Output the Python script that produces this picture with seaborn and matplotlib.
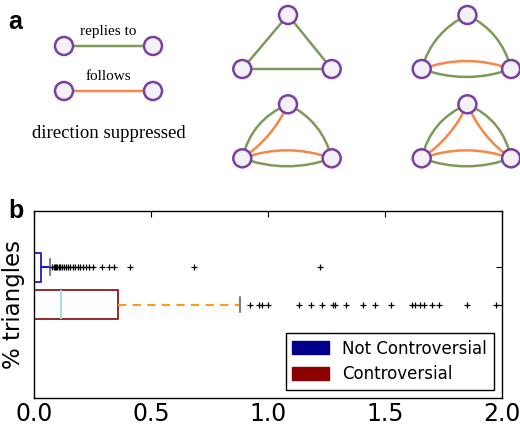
import numpy as np
import pandas as pd
import matplotlib
matplotlib.use('Agg')
import matplotlib.pyplot as plt
from matplotlib.patches import Circle, Patch, PathPatch
from matplotlib.path import Path
import seaborn as sns

# data (panel b)
groups = ['Not Controversial', 'Controversial']
q1 = [0.0, 0.0]
medians = [0.0, 0.116]
q3 = [0.031, 0.358]
whisker_lo = [0.0, 0.0]
whisker_hi = [0.070, 0.882]

outliers_not = [0.079, 0.084, 0.089, 0.094, 0.099, 0.105, 0.112, 0.120, 0.128,
                0.136, 0.145, 0.155, 0.165, 0.175, 0.186, 0.197, 0.209, 0.222,
                0.236, 0.250, 0.290, 0.320, 0.340, 0.412, 0.685, 1.222]
outliers_contr = [0.924, 0.963, 0.974, 1.000, 1.131, 1.185, 1.230, 1.277, 1.287,
                  1.334, 1.408, 1.458, 1.526, 1.617, 1.629, 1.650, 1.667, 1.702,
                  1.730, 1.850, 1.974]

box_colors = ['#1a1acc', '#8b1a1a']
median_colors = ['#006400', '#add8e6']
whisker_colors = ['#1a1acc', '#ff9a1a']
legend_colors = ['#00008b', '#8b0000']

# colours for panel a
green = '#7d9a5b'
orange = '#f5874a'
purple = '#7b3fa3'
node_fill = '#f3f1f8'

sns.set_style('white')
plt.rcParams['font.family'] = ['DejaVu Sans']
plt.rcParams['xtick.direction'] = 'in'
plt.rcParams['ytick.direction'] = 'in'
plt.rcParams['text.color'] = 'black'
plt.rcParams['axes.labelcolor'] = 'black'
plt.rcParams['xtick.color'] = 'black'
plt.rcParams['ytick.color'] = 'black'

fig = plt.figure(figsize=(5.2, 4.25), dpi=100)

# ---------- panel a : diagrams (pixel coordinates) ----------
axa = fig.add_axes([0, 1 - 190 / 425, 1, 190 / 425])
axa.set_xlim(0, 520)
axa.set_ylim(190, 0)
axa.axis('off')


def node(x, y):
    axa.add_patch(Circle((x, y), 9, facecolor=node_fill, edgecolor=purple, lw=1.8, zorder=3))


def edge(p0, p1, color, bulge=0.0, center=None):
    p0 = np.array(p0, float)
    p1 = np.array(p1, float)
    mid = (p0 + p1) / 2
    d = p1 - p0
    n = np.array([-d[1], d[0]]) / np.hypot(*d)
    if center is not None and np.dot(mid - np.array(center), n) < 0:
        n = -n
    ctrl = mid + 2 * bulge * n
    path = Path([p0, ctrl, p1], [Path.MOVETO, Path.CURVE3, Path.CURVE3])
    axa.add_patch(PathPatch(path, facecolor='none', edgecolor=color, lw=1.8, zorder=2))


axa.text(8, 22, 'a', fontsize=18, fontweight='bold', family='Liberation Sans', va='center')

for y, col, lab in [(46, green, 'replies to'), (91, orange, 'follows')]:
    edge((64, y), (153, y), col)
    node(64, y)
    node(153, y)
    axa.text(108.5, y - 15, lab, family='Liberation Serif', fontsize=11, ha='center', va='center')
axa.text(108.5, 134, 'direction suppressed', family='Liberation Serif', fontsize=13.5,
         ha='center', va='center')

# triangles: (top, left, right) offsets from panel origin
tri = {'T': (45.7, 0), 'L': (0, 54), 'R': (89.4, 54)}
origins = [(242.3, 15), (421.7, 15), (242.3, 104.3), (421.7, 104.3)]
edge_sets = [
    [('T', 'L', green, 0), ('T', 'R', green, 0), ('L', 'R', green, 0)],
    [('T', 'L', green, 8), ('T', 'R', green, 8), ('L', 'R', green, 8), ('L', 'R', orange, -8)],
    [('T', 'L', green, 9), ('T', 'L', orange, -5), ('T', 'R', green, 8),
     ('L', 'R', green, 8), ('L', 'R', orange, -8)],
    [('T', 'L', green, 9), ('T', 'L', orange, -5), ('T', 'R', green, 9),
     ('T', 'R', orange, -5), ('L', 'R', green, 8), ('L', 'R', orange, -8)],
]
for (ox, oy), edges in zip(origins, edge_sets):
    pts = {k: (ox + v[0], oy + v[1]) for k, v in tri.items()}
    c = np.mean(list(pts.values()), axis=0)
    for a, b, col, bl in edges:
        edge(pts[a], pts[b], col, bl, center=c)
    for p in pts.values():
        node(*p)

# ---------- panel b : box plot ----------
ax = fig.add_axes([34 / 520, 27 / 425, 468 / 520, 187 / 425])
positions = [2, 1]
stats = [dict(label=g, q1=a, med=m, q3=b, whislo=lo, whishi=hi, fliers=[])
         for g, a, m, b, lo, hi in zip(groups, q1, medians, q3, whisker_lo, whisker_hi)]
art = ax.bxp(stats, positions=positions, widths=0.78, capwidths=0.42,
             orientation='horizontal', showfliers=False, manage_ticks=False)
for i in range(2):
    art['boxes'][i].set(color=box_colors[i], lw=1.3)
    art['medians'][i].set(color=median_colors[i], lw=1.5)
    for w in art['whiskers'][2 * i:2 * i + 2]:
        w.set(color=whisker_colors[i], lw=1.5)
    for cp in art['caps'][2 * i:2 * i + 2]:
        cp.set(color='gray', lw=1.5)
for w in art['whiskers'][2:4]:
    w.set_linestyle((0, (4, 3)))

fl = pd.DataFrame({
    'value': outliers_not + outliers_contr,
    'group': [groups[0]] * len(outliers_not) + [groups[1]] * len(outliers_contr),
})
fl['pos'] = fl['group'].map(dict(zip(groups, positions)))
sns.scatterplot(data=fl, x='value', y='pos', marker='+', color='black', s=22,
                linewidth=0.9, ax=ax, legend=False, zorder=3)

ax.set_xlim(0, 2.0)
ax.set_ylim(-1.5, 3.5)
ax.set_xticks([0.0, 0.5, 1.0, 1.5, 2.0])
ax.set_xticklabels(['0.0', '0.5', '1.0', '1.5', '2.0'])
ax.set_yticks(positions)
ax.set_yticklabels([])
ax.tick_params(axis='x', labelsize=17, length=4, top=True, pad=3)
ax.tick_params(axis='y', length=4, right=True)
ax.set_xlabel('')
ax.set_ylabel('% triangles', fontsize=16.5)
ax.yaxis.set_label_coords(-9 / 468, 0.5)
for s in ax.spines.values():
    s.set_visible(True)
    s.set_color('black')
    s.set_linewidth(1)

handles = [Patch(facecolor=c, edgecolor=c) for c in legend_colors]
leg = ax.legend(handles, groups, loc='lower right', fontsize=12, fancybox=False,
                framealpha=1, edgecolor='black', handlelength=2.2, handleheight=0.8,
                borderpad=0.4, labelspacing=0.45)
leg.get_frame().set_linewidth(1)

fig.text(8 / 520, 1 - 211 / 425, 'b', fontsize=18, fontweight='bold',
         family='Liberation Sans', va='center')

fig.savefig('out.png', dpi=100)
